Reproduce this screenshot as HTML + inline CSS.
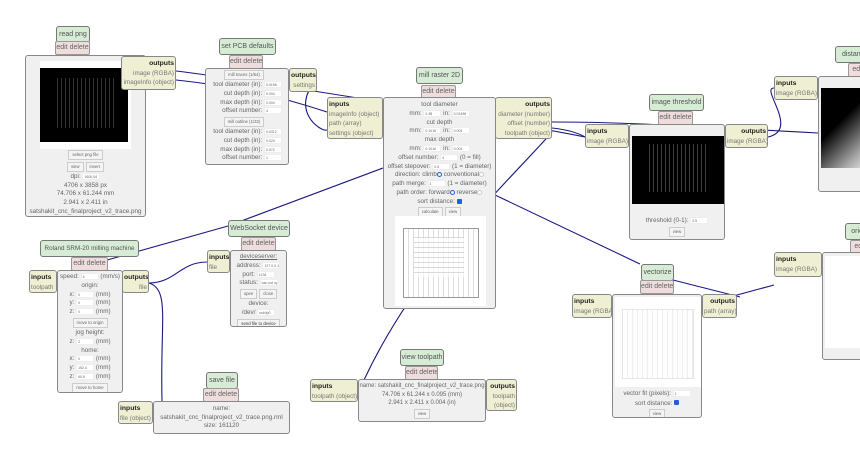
<!DOCTYPE html>
<html><head><meta charset="utf-8"><style>
*{box-sizing:border-box;margin:0;padding:0}
body{width:860px;height:449px;background:#fff;position:relative;overflow:hidden;font-family:"Liberation Sans",sans-serif;color:#666}
.a{position:absolute}
.t,.e,.b,.io{white-space:nowrap;overflow:hidden}
.t{position:absolute;background:#d6ecd5;border:1px solid #777;border-radius:3px;font-size:7px;text-align:center;line-height:15px;color:#555}
.e{position:absolute;background:#efdcdc;border:1px solid #999;border-radius:2px;font-size:7px;text-align:center;line-height:12px;color:#666}
.b{position:absolute;background:#f0f0f0;border:1px solid #888;border-radius:3px;font-size:6.3px;text-align:center;line-height:9.5px;color:#666}
.io{position:absolute;background:#efefd3;border:1px solid #888;border-radius:3px;font-size:6.3px;line-height:9.5px;color:#777;padding:2px 1px}
.io b{color:#222;font-size:6.8px}
.r{text-align:right}
.in{display:inline-block;background:#fff;border:1px solid #eee;width:18px;height:7px;vertical-align:middle;font-size:3.5px;line-height:6px;text-align:left;padding-left:1px;overflow:hidden}
.bt{display:inline-block;border:1px solid #ccc;background:#f4f4f4;font-size:4.3px;line-height:8px;padding:0 3px;margin:1px}
.cb{display:inline-block;width:5px;height:5px;background:#2060d0;border-radius:1px;vertical-align:middle}
.ro{display:inline-block;width:5px;height:5px;border:1px solid #ccc;border-radius:50%;background:#fff;vertical-align:middle}
.rs{display:inline-block;width:5px;height:5px;border:1.5px solid #2060d0;border-radius:50%;vertical-align:middle}
</style></head><body>
<svg class="a" style="left:0;top:0" width="860" height="449">
<g fill="none" stroke="#1a1a80" stroke-width="1.1">
<path d="M176,71 C250,80 500,120 585,137"/>
<path d="M176,80 C250,88 290,100 327,112"/>
<path d="M316,80 C290,110 320,132 327,130"/>
<path d="M552,132 C520,170 420,260 364,380 L358,392 C340,395 320,392 310,392"/>
<path d="M552,122 C600,122 640,123 818,133"/>
<path d="M552,128 C570,130 580,134 585,137"/>
<path d="M768,137 C800,130 760,88 774,88"/>
<path d="M100,262 L228,226 L383,168"/>
<path d="M149,283 C175,283 180,262 207,262"/>
<path d="M149,283 C170,290 160,320 162,401"/>
<path d="M495,195 L640,264"/>
<path d="M673,280 L740,297"/>
<path d="M715,301 L774,285"/>
</g></svg>

<!-- read png -->
<div class="t" style="left:56px;top:26px;width:34px">read png</div>
<div class="e" style="left:55px;top:41px;width:35px">edit delete</div>
<div class="b" style="left:25px;top:55px;width:121px;height:162px;line-height:8.6px">
<div class="a" style="left:14px;top:5px;width:91px;height:88px;background:#fff"><div class="a" style="left:0;top:7px;width:88px;height:74px;background:#000"><div class="a" style="left:14px;top:10px;width:60px;height:50px;background:repeating-linear-gradient(90deg,transparent 0 3px,#555 3px 4px);opacity:.6"></div></div></div>
<div style="margin-top:93px"><span class="bt">select png file</span><br><span class="bt">view</span><span class="bt">invert</span></div>
dpi: <span class="in">1600.04</span><br>4706 x 3858 px<br>74.706 x 61.244 mm<br>2.941 x 2.411 in<br>satshakit_cnc_finalproject_v2_trace.png</div>
<div class="io r" style="left:121px;top:56px;width:55px;height:34px"><b>outputs</b><br>image (RGBA)<br>imageInfo (object)</div>

<!-- PCB defaults -->
<div class="t" style="left:219px;top:38px;width:57px">set PCB defaults</div>
<div class="e" style="left:229px;top:55px;width:34px">edit delete</div>
<div class="b" style="left:205px;top:68px;width:84px;height:97px;line-height:8.6px;text-align:right;padding-right:6px">
<div style="text-align:center"><span class="bt">mill traces (1/64)</span></div>
tool diameter (in): <span class="in">0.0156</span><br>cut depth (in): <span class="in">0.004</span><br>max depth (in): <span class="in">0.004</span><br>offset number: <span class="in">4</span>
<div style="text-align:center"><span class="bt">mill outline (1/32)</span></div>
tool diameter (in): <span class="in">0.0312</span><br>cut depth (in): <span class="in">0.024</span><br>max depth (in): <span class="in">0.072</span><br>offset number: <span class="in">1</span></div>
<div class="io r" style="left:289px;top:68px;width:28px;height:24px"><b>outputs</b><br>settings</div>

<!-- mill raster -->
<div class="t" style="left:416px;top:67px;width:47px">mill raster 2D</div>
<div class="e" style="left:421px;top:85px;width:35px">edit delete</div>
<div class="b" style="left:383px;top:97px;width:113px;height:212px;line-height:8.7px;padding-top:3px">
tool diameter<br>mm: <span class="in">0.38</span> in: <span class="in">0.01496</span><br>cut depth<br>mm: <span class="in">0.1016</span> in: <span class="in">0.004</span><br>max depth<br>mm: <span class="in">0.1016</span> in: <span class="in">0.004</span><br>
offset number: <span class="in">4</span> (0 = fill)<br>offset stepover: <span class="in">0.5</span> (1 = diameter)<br>direction: climb<span class="rs"></span> conventional<span class="ro"></span><br>path merge: <span class="in">1</span> (1 = diameter)<br>path order: forward<span class="rs"></span> reverse<span class="ro"></span><br>sort distance: <span class="cb"></span><br><span class="bt">calculate</span><span class="bt">view</span>
<div class="a" style="left:11px;top:118px;width:91px;height:90px;background:#fff">
<div class="a" style="left:8px;top:12px;width:76px;height:70px;border:1px solid #999;background:repeating-linear-gradient(90deg,#fff 0 4px,#ddd 4px 5px)"><div class="a" style="left:10px;top:8px;width:50px;height:40px;background:repeating-linear-gradient(0deg,#fff 0 4px,#ccc 4px 5px);opacity:.7"></div></div></div></div>
<div class="io" style="left:327px;top:97px;width:56px;height:42px"><b>inputs</b><br>imageInfo (object)<br>path (array)<br>settings (object)</div>
<div class="io r" style="left:495px;top:97px;width:57px;height:42px"><b>outputs</b><br>diameter (number)<br>offset (number)<br>toolpath (object)</div>

<!-- threshold -->
<div class="t" style="left:649px;top:94px;width:55px">image threshold</div>
<div class="e" style="left:658px;top:111px;width:35px">edit delete</div>
<div class="b" style="left:629px;top:124px;width:96px;height:116px">
<div class="a" style="left:2px;top:11px;width:92px;height:68px;background:#000"><div class="a" style="left:14px;top:8px;width:60px;height:48px;background:repeating-linear-gradient(90deg,transparent 0 3px,#666 3px 4px);opacity:.6"></div></div>
<div style="margin-top:91px">threshold (0-1): <span class="in">0.5</span><br><span class="bt">view</span></div></div>
<div class="io" style="left:585px;top:124px;width:44px;height:24px"><b>inputs</b><br>image (RGBA)</div>
<div class="io r" style="left:725px;top:124px;width:43px;height:24px"><b>outputs</b><br>image (RGBA)</div>

<!-- distance -->
<div class="t" style="left:835px;top:46px;width:40px">distance</div>
<div class="e" style="left:848px;top:63px;width:20px">edit</div>
<div class="b" style="left:818px;top:76px;width:50px;height:116px"><div class="a" style="left:2px;top:11px;width:50px;height:80px;background:linear-gradient(135deg,#000 40%,#aaa 80%,#eee)"></div></div>
<div class="io" style="left:774px;top:76px;width:44px;height:24px"><b>inputs</b><br>image (RGBA)</div>

<!-- orient -->
<div class="t" style="left:845px;top:223px;width:30px">orient</div>
<div class="e" style="left:850px;top:240px;width:20px">edit</div>
<div class="b" style="left:822px;top:252px;width:50px;height:108px"><div class="a" style="left:2px;top:3px;width:50px;height:92px;background:#fff"></div></div>
<div class="io" style="left:774px;top:252px;width:48px;height:25px"><b>inputs</b><br>image (RGBA)</div>

<!-- vectorize -->
<div class="t" style="left:641px;top:264px;width:33px">vectorize</div>
<div class="e" style="left:640px;top:280px;width:34px">edit delete</div>
<div class="b" style="left:612px;top:294px;width:90px;height:124px">
<div class="a" style="left:2px;top:2px;width:86px;height:90px;background:#fff"><div class="a" style="left:7px;top:12px;width:72px;height:70px;border:1px solid #e4e4e4;background:repeating-linear-gradient(90deg,#fff 0 4px,#eee 4px 5px)"></div></div>
<div style="margin-top:94px">vector fit (pixels): <span class="in">1</span><br>sort distance: <span class="cb"></span><br><span class="bt">view</span></div></div>
<div class="io" style="left:572px;top:294px;width:40px;height:24px"><b>inputs</b><br>image (RGBA)</div>
<div class="io r" style="left:702px;top:294px;width:35px;height:24px"><b>outputs</b><br>path (array)</div>

<!-- view toolpath -->
<div class="t" style="left:400px;top:349px;width:44px">view toolpath</div>
<div class="e" style="left:405px;top:366px;width:33px">edit delete</div>
<div class="b" style="left:358px;top:379px;width:128px;height:43px;padding-top:2px;line-height:8.5px;font-size:6px">name: satshakit_cnc_finalproject_v2_trace.png<br>74.706 x 61.244 x 0.095 (mm)<br>2.941 x 2.411 x 0.004 (in)<br><span class="bt">view</span></div>
<div class="io" style="left:310px;top:379px;width:48px;height:23px"><b>inputs</b><br>toolpath (object)</div>
<div class="io r" style="left:486px;top:379px;width:31px;height:32px"><b>outputs</b><br>toolpath<br>(object)</div>

<!-- Roland -->
<div class="t" style="left:40px;top:240px;width:99px;font-size:6.3px">Roland SRM-20 milling machine</div>
<div class="e" style="left:71px;top:257px;width:37px">edit delete</div>
<div class="b" style="left:57px;top:270px;width:66px;height:123px;line-height:8.7px;padding-top:2px">
speed: <span class="in">4</span> (mm/s)<br>origin:<br>x: <span class="in">0</span> (mm)<br>y: <span class="in">0</span> (mm)<br>z: <span class="in">0</span> (mm)<br><span class="bt">move to origin</span><br>jog height:<br>z: <span class="in">2</span> (mm)<br>home:<br>x: <span class="in">0</span> (mm)<br>y: <span class="in">152.4</span> (mm)<br>z: <span class="in">60.5</span> (mm)<br><span class="bt">move to home</span></div>
<div class="io" style="left:29px;top:270px;width:28px;height:23px"><b>inputs</b><br>toolpath</div>
<div class="io r" style="left:122px;top:270px;width:27px;height:23px"><b>outputs</b><br>file</div>

<!-- WebSocket -->
<div class="t" style="left:228px;top:220px;width:62px">WebSocket device</div>
<div class="e" style="left:241px;top:237px;width:35px">edit delete</div>
<div class="b" style="left:230px;top:250px;width:57px;height:77px;line-height:8.7px;padding-top:2px">
<u>deviceserver:</u><br>address: <span class="in">127.0.0.1</span><br>port: <span class="in">1234</span><br>status: <span class="in">can not open</span><br><span class="bt">open</span><span class="bt">close</span><br>device:<br>/dev/ <span class="in">usb/lp0</span><br><span class="bt" style="color:#333">send file to device</span></div>
<div class="io" style="left:207px;top:250px;width:23px;height:23px"><b>inputs</b><br>file</div>

<!-- save file -->
<div class="t" style="left:206px;top:372px;width:32px">save file</div>
<div class="e" style="left:203px;top:388px;width:36px">edit delete</div>
<div class="b" style="left:153px;top:401px;width:137px;height:33px;line-height:8.7px;padding-top:3px">name:<br>satshakit_cnc_finalproject_v2_trace.png.rml<br>size: 161120</div>
<div class="io" style="left:118px;top:401px;width:35px;height:23px"><b>inputs</b><br>file (object)</div>
</body></html>
